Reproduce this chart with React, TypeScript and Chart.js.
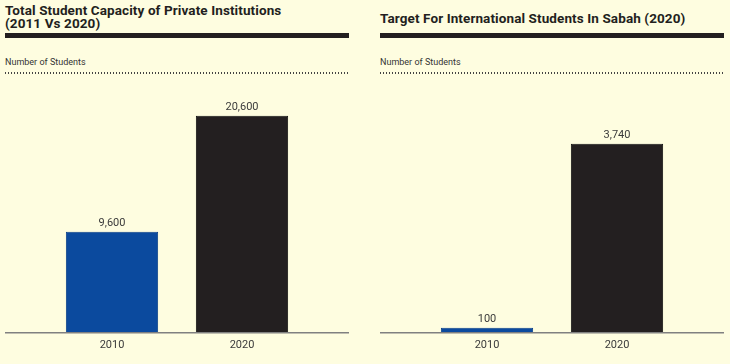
import React, { useEffect, useRef } from "react";
import { Chart, registerables } from "chart.js";

Chart.register(...registerables);

const categories = ["2010", "2020"];
const capacityValues = [9600, 20600];
const internationalValues = [100, 3740];
const capacityMax = 24000;
const internationalMax = 5000;
const barColors = ["#0b4a9e", "#231f20"];
const barBorders = ["#0a3f88", "#111111"];

const BG = "#fefde0";
const FONT = "Roboto, 'DejaVu Sans', sans-serif";

const decorPlugin = {
  id: "decor",
  afterDatasetsDraw(chart: any) {
    const { ctx, chartArea } = chart;
    ctx.save();
    // baseline
    ctx.strokeStyle = "#808080";
    ctx.lineWidth = 1.5;
    ctx.beginPath();
    ctx.moveTo(0, chartArea.bottom);
    ctx.lineTo(chart.width, chartArea.bottom);
    ctx.stroke();
    // value labels
    const meta = chart.getDatasetMeta(0);
    const data = chart.data.datasets[0].data;
    ctx.fillStyle = "#3a3a3a";
    ctx.font = `11px ${FONT}`;
    ctx.textAlign = "center";
    ctx.textBaseline = "alphabetic";
    meta.data.forEach((bar: any, i: number) => {
      ctx.fillText(Number(data[i]).toLocaleString("en-US"), bar.x, bar.y - 6);
    });
    ctx.restore();
  },
};

function BarChart({ values, max }: { values: number[]; max: number }) {
  const ref = useRef<HTMLCanvasElement>(null);
  useEffect(() => {
    if (!ref.current) return;
    const chart = new Chart(ref.current, {
      type: "bar",
      data: {
        labels: categories,
        datasets: [
          {
            data: values,
            backgroundColor: barColors,
            borderColor: barBorders,
            borderWidth: 1,
            categoryPercentage: 1,
            barPercentage: 0.71,
          },
        ],
      },
      options: {
        responsive: false,
        animation: false,
        devicePixelRatio: 1,
        layout: { padding: { top: 4, bottom: 6, left: 42, right: 42 } },
        plugins: { legend: { display: false }, tooltip: { enabled: false } },
        scales: {
          x: {
            grid: { display: false, drawTicks: false },
            border: { display: false },
            ticks: { color: "#3a3a3a", font: { family: FONT, size: 11 }, padding: 6 },
          },
          y: { display: false, min: 0, max },
        },
      },
      plugins: [decorPlugin],
    });
    return () => chart.destroy();
  }, [values, max]);
  return (
    <canvas
      ref={ref}
      width={344}
      height={288}
      style={{ position: "absolute", left: 0, top: 76, width: 344, height: 288 }}
    />
  );
}

function Panel({
  left,
  title,
  titleTop,
  values,
  max,
}: {
  left: number;
  title: string[];
  titleTop: number;
  values: number[];
  max: number;
}) {
  return (
    <div style={{ position: "absolute", left, top: 0, width: 344, height: 364 }}>
      <div
        style={{
          position: "absolute",
          left: 0,
          top: titleTop,
          font: `700 13.5px/13px ${FONT}`,
          letterSpacing: "0.1px",
          color: "#231f20",
          whiteSpace: "nowrap",
        }}
      >
        {title.map((t, i) => (
          <div key={i}>{t}</div>
        ))}
      </div>
      <div style={{ position: "absolute", left: 0, top: 33, width: 344, height: 5, background: "#231f20" }} />
      <div
        style={{
          position: "absolute",
          left: 0,
          top: 57,
          font: `400 9px/11px ${FONT}`,
          color: "#333",
          whiteSpace: "nowrap",
        }}
      >
        Number of Students
      </div>
      <div
        style={{
          position: "absolute",
          left: 0,
          top: 72,
          width: 344,
          height: 2,
          backgroundImage: "repeating-linear-gradient(to right, #444 0px, #444 1px, transparent 1px, transparent 3px)",
        }}
      />
      <BarChart values={values} max={max} />
    </div>
  );
}

export default function App() {
  return (
    <div style={{ position: "absolute", left: 0, top: 0, width: 730, height: 364, background: BG, overflow: "hidden" }}>
      <Panel
        left={5}
        title={["Total Student Capacity of Private Institutions", "(2011 Vs 2020)"]}
        titleTop={4}
        values={capacityValues}
        max={capacityMax}
      />
      <Panel
        left={380}
        title={["Target For International Students In Sabah (2020)"]}
        titleTop={12}
        values={internationalValues}
        max={internationalMax}
      />
    </div>
  );
}
